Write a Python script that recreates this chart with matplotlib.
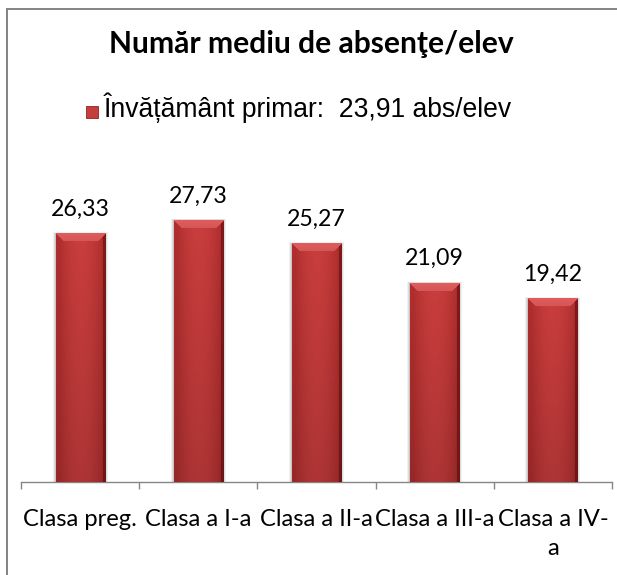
import numpy as np
import matplotlib
matplotlib.use("Agg")
import matplotlib.pyplot as plt
from matplotlib.patches import Rectangle

# ---------------- data ----------------
categories = ["Clasa preg.", "Clasa a I-a", "Clasa a II-a", "Clasa a III-a", "Clasa a IV-a"]
tick_labels = ["Clasa preg.", "Clasa a I-a", "Clasa a II-a", "Clasa a III-a", "Clasa a IV-\na"]
values = [26.33, 27.73, 25.27, 21.09, 19.42]
value_labels = ["26,33", "27,73", "25,27", "21,09", "19,42"]
title_text = "Număr mediu de absenţe/elev"
legend_text = "Învățământ primar:  23,91 abs/elev"

# ---------------- figure ----------------
W, H, DPI = 617, 575, 100
fig = plt.figure(figsize=(W / DPI, H / DPI), dpi=DPI)
fig.patch.set_facecolor("white")
renderer = fig.canvas.get_renderer()


def fx(px):
    return px / W


def fy(py):
    return 1 - py / H


def fit_size(text, target_px, family, weight="normal", start=18.0):
    t = fig.text(0, 0, text, fontsize=start, family=family, weight=weight)
    w = t.get_window_extent(renderer).width
    t.remove()
    return start * target_px / w


PT = 72.0 / DPI  # points per pixel

# outer chart border (cropped on right/bottom)
fig.add_artist(Rectangle((fx(7), fy(800)), fx(900), fy(9) - fy(800),
                         transform=fig.transFigure, fill=False,
                         edgecolor="#868686", linewidth=2 * PT, zorder=0))

# title
title_fs = fit_size(title_text, 403, "Lato", "bold", 21)
fig.text(fx(311.5), fy(53), title_text, ha="center", va="baseline",
         fontsize=title_fs, family="Lato", weight="bold", color="black")

# legend
leg_fs = fit_size(legend_text, 409, "Liberation Sans", "normal", 19)
fig.text(fx(104), fy(117), legend_text, ha="left", va="baseline",
         fontsize=leg_fs, family="Liberation Sans", color="black")
fig.add_artist(Rectangle((fx(86), fy(118)), fx(12), fy(106) - fy(118),
                         transform=fig.transFigure, facecolor="#C53E3E",
                         edgecolor="#8E2424", linewidth=0.6, zorder=3))

# ---------------- axes ----------------
ax_left, ax_right, ax_top, ax_bottom = 21, 612, 199, 482
ax = fig.add_axes([fx(ax_left), fy(ax_bottom), fx(ax_right - ax_left),
                   (ax_bottom - ax_top) / H])
ax.set_facecolor("none")
x = np.arange(len(categories))
ax.set_xlim(-0.5, len(categories) - 0.5)
ax.set_ylim(0, 30)

for s in ["top", "left", "right"]:
    ax.spines[s].set_visible(False)
ax.spines["bottom"].set_color("#868686")
ax.spines["bottom"].set_linewidth(1.0)
ax.set_yticks([])

lab_fs = fit_size("Clasa preg.", 114, "Lato", "normal", 18)
ax.set_xticks(x)
ax.set_xticklabels(tick_labels, fontsize=lab_fs, family="Lato",
                   linespacing=1.48)
ax.tick_params(axis="x", which="major", length=0, pad=19.5)
ax.set_xticks(np.arange(len(categories) + 1) - 0.5, minor=True)
ax.tick_params(axis="x", which="minor", length=7 * PT, width=1.0,
               color="#868686")

bar_w = 0.415
bars = ax.bar(x, values, width=bar_w, color="#C53E3E", zorder=2)

# pixel -> data scale
px_x = (ax.get_xlim()[1] - ax.get_xlim()[0]) / (ax_right - ax_left)
px_y = (ax.get_ylim()[1] - ax.get_ylim()[0]) / (ax_bottom - ax_top)


def bevel_image(wp, hp):
    wp = max(int(round(wp)), 2)
    hp = max(int(round(hp)), 2)
    img = np.zeros((hp, wp, 3))
    body_c = np.array([0.79, 0.24, 0.24])
    body_e = np.array([0.65, 0.16, 0.16])
    top_c = np.array([0.88, 0.36, 0.36])
    left_c = np.array([0.69, 0.18, 0.18])
    right_c = np.array([0.50, 0.10, 0.10])
    b, s = 8, 3
    jj = np.arange(wp)
    prof = np.abs((jj + 0.5) / wp - 0.5) * 2
    for i in range(hp):
        vf = 1.0 - 0.14 * (i / hp)
        for j in range(wp):
            dl, dr = j, wp - 1 - j
            if i < b and i <= dl and i <= dr:
                c = top_c * (1.0 - 0.06 * i / b)
            elif dl < s:
                c = left_c * vf
            elif dr < s:
                c = right_c * vf
            else:
                m = prof[j] ** 2
                c = (body_c * (1 - m) + body_e * m) * vf
            img[i, j] = c
    return np.clip(img, 0, 1)


for rect, v in zip(bars, values):
    x0 = rect.get_x()
    x1 = x0 + rect.get_width()
    wp = rect.get_width() / px_x
    hp = v / px_y
    # soft shadow
    for k, a in [(3, 0.06), (2, 0.08), (1, 0.10)]:
        ax.add_patch(Rectangle((x0 - k * px_x, 0), (x1 - x0) + 2 * k * px_x,
                               v + k * px_y * 0.5, facecolor="black",
                               edgecolor="none", alpha=a, zorder=1.5))
    ax.imshow(bevel_image(wp, hp), extent=(x0, x1, 0, v), aspect="auto",
              interpolation="bilinear", zorder=3)

ax.set_xlim(-0.5, len(categories) - 0.5)
ax.set_ylim(0, 30)

val_fs = fit_size("26,33", 59, "Lato", "normal", 18)
for xi, v, lbl in zip(x, values, value_labels):
    ax.annotate(lbl, (xi, v), xytext=(0, 18 * PT), textcoords="offset points",
                ha="center", va="baseline", fontsize=val_fs, family="Lato",
                color="black", annotation_clip=False)

fig.savefig("out.png", dpi=DPI, facecolor="white")
